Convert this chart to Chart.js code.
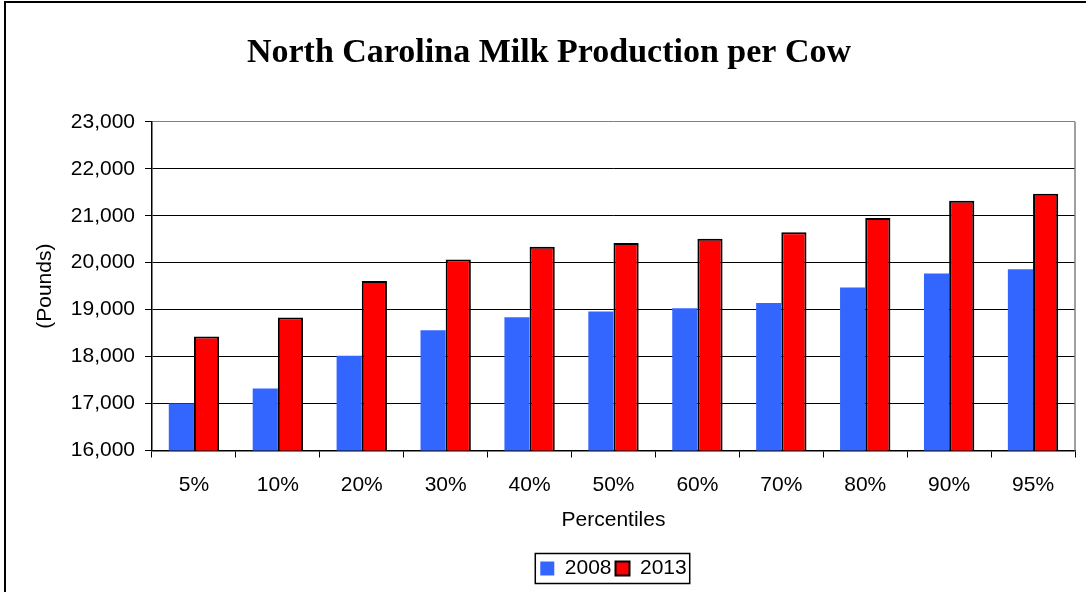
<!DOCTYPE html>
<html lang="en">
<head>
  <meta charset="UTF-8" />
  <title>North Carolina Milk Production per Cow</title>
  <script src="https://cdn.jsdelivr.net/npm/chart.js"></script>
  <style>
    body {
      margin: 0;
      background: #fff;
    }
    #wrap {
      position: relative;
      width: 1086px;
      height: 592px;
    }
  </style>
</head>
<body>
  <div id="wrap"><canvas id="milkChart" width="1086" height="592"></canvas></div>

  <script>
    const percentiles = ['5%', '10%', '20%', '30%', '40%', '50%', '60%', '70%', '80%', '90%', '95%'];
    const pounds2008 = [17000, 17320, 18020, 18560, 18840, 18960, 19030, 19140, 19470, 19770, 19860];
    const pounds2013 = [18430, 18830, 19610, 20070, 20340, 20420, 20510, 20650, 20950, 21320, 21470];
    const yMin = 16000;
    const yMax = 23000;
    const yStep = 1000;

    Chart.defaults.color = '#000';
    Chart.defaults.font.family = 'Arial, "Liberation Sans", sans-serif';
    Chart.defaults.font.size = 21;

    // white page, outer frame, grey right edge of the plot area, legend box
    const decorations = {
      id: 'decorations',
      beforeDraw(chart) {
        const ctx = chart.ctx;
        ctx.save();
        ctx.fillStyle = '#fff';
        ctx.fillRect(0, 0, chart.width, chart.height);
        ctx.fillStyle = '#000';
        ctx.fillRect(4, 1, 2, chart.height);
        ctx.fillRect(4, 1, chart.width, 2);
        ctx.restore();
      },
      afterDraw(chart) {
        const ctx = chart.ctx;
        const area = chart.chartArea;
        ctx.save();
        ctx.strokeStyle = '#808080';
        ctx.lineWidth = 1.5;
        ctx.beginPath();
        ctx.moveTo(area.right, area.top);
        ctx.lineTo(area.right, area.bottom);
        ctx.stroke();

        const boxes = chart.legend.legendHitBoxes;
        if (boxes.length) {
          const first = boxes[0];
          const last = boxes[boxes.length - 1];
          const cy = first.top + first.height / 2;
          ctx.strokeStyle = '#000';
          ctx.lineWidth = 1.5;
          ctx.strokeRect(first.left - 5, cy - 15, last.left + last.width - first.left + 8, 30);
        }
        ctx.restore();
      }
    };

    new Chart(document.getElementById('milkChart'), {
      type: 'bar',
      data: {
        labels: percentiles,
        datasets: [
          {
            label: '2008',
            data: pounds2008,
            backgroundColor: '#3366FF',
            borderWidth: 0
          },
          {
            label: '2013',
            data: pounds2013,
            backgroundColor: '#FF0000',
            borderColor: '#000',
            borderWidth: 2
          }
        ]
      },
      options: {
        responsive: false,
        animation: false,
        layout: {
          padding: { left: 23, right: 11, top: 0, bottom: 3 }
        },
        datasets: {
          bar: { categoryPercentage: 0.6, barPercentage: 1 }
        },
        plugins: {
          title: {
            display: true,
            text: 'North Carolina Milk Production per Cow',
            font: { family: '"Times New Roman", "Liberation Serif", serif', size: 34, weight: 'bold' },
            padding: { top: 33, bottom: 48 }
          },
          legend: {
            position: 'bottom',
            fullSize: false,
            labels: {
              boxWidth: 14,
              boxHeight: 14,
              padding: 4,
              font: { size: 21 }
            }
          },
          tooltip: { enabled: false }
        },
        scales: {
          x: {
            offset: true,
            grid: {
              display: true,
              drawOnChartArea: false,
              offset: true,
              tickLength: 7,
              color: '#000'
            },
            border: { color: '#000', width: 1.5 },
            ticks: { padding: 15, maxRotation: 0 },
            title: {
              display: true,
              text: 'Percentiles',
              padding: { top: 0, bottom: 21 }
            },
            afterFit(scale) { scale.height = 103.5; }
          },
          y: {
            min: yMin,
            max: yMax,
            grid: {
              color: ctx => (ctx.tick && ctx.tick.value === yMax ? '#808080' : '#000'),
              tickColor: '#000',
              tickLength: 7,
              lineWidth: 1
            },
            border: { color: '#000', width: 1.5 },
            ticks: {
              stepSize: yStep,
              padding: 10,
              callback: v => v.toLocaleString('en-US')
            },
            title: {
              display: true,
              text: '(Pounds)',
              padding: { top: 10, bottom: 0 }
            },
            afterFit(scale) { scale.width = 129; }
          }
        }
      },
      plugins: [decorations]
    });
  </script>
</body>
</html>
